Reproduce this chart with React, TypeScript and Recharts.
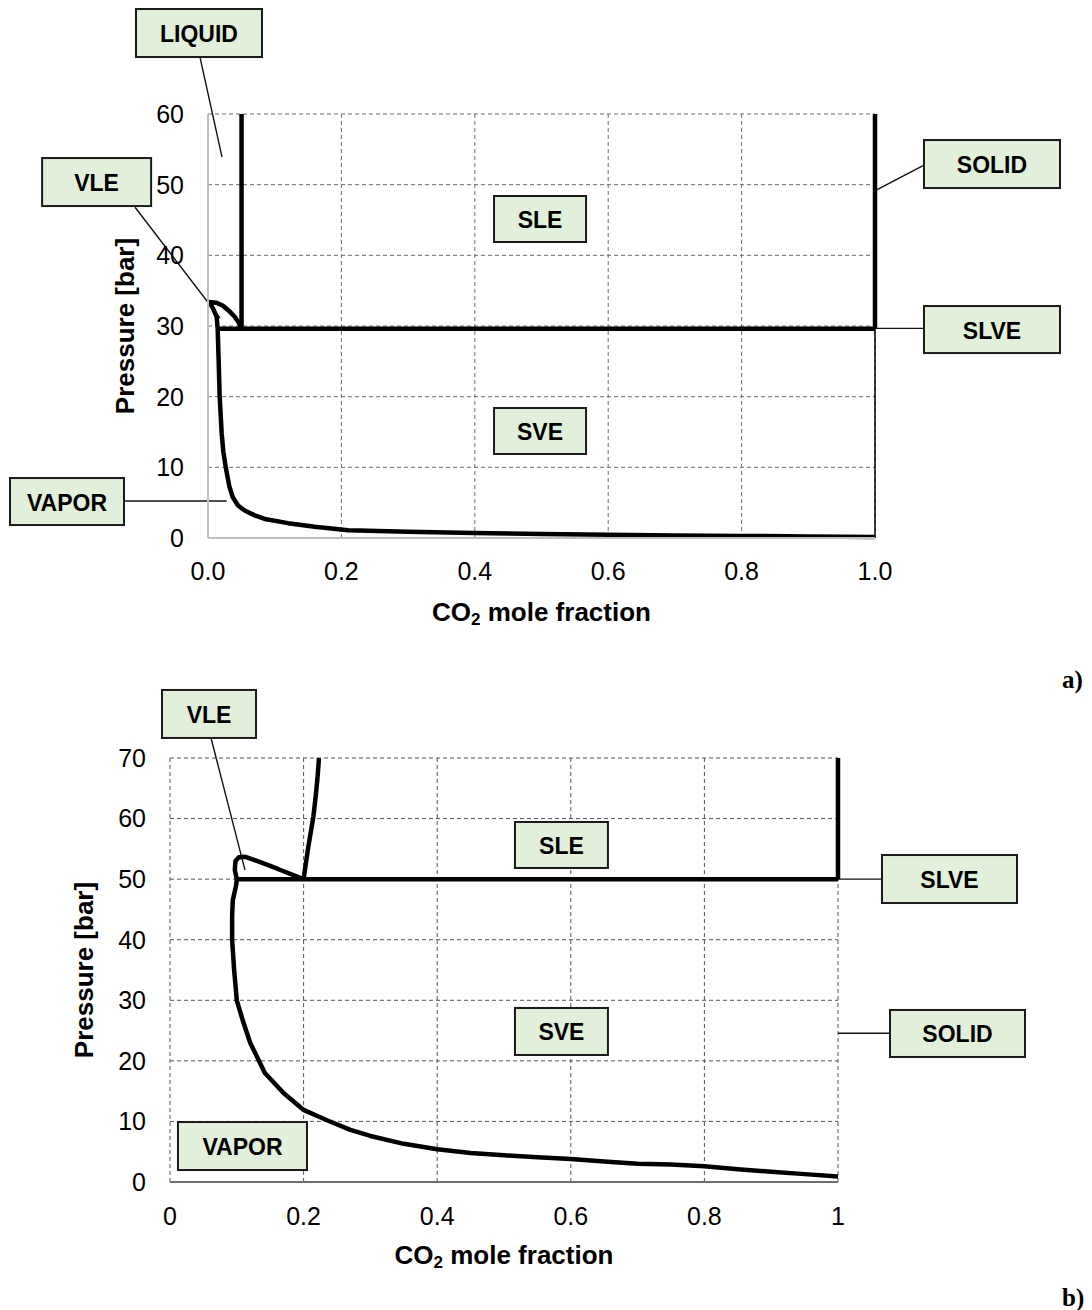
import React from "react";
import {
  LineChart,
  Line,
  XAxis,
  YAxis,
  CartesianGrid,
  ReferenceDot,
  ReferenceLine,
  Label,
} from "recharts";

type Pt = { x: number; p: number };

const FONT = '"Liberation Sans", Arial, sans-serif';

// ---------- a) phase envelope, P up to 60 bar ----------
// vapour branch from pure CO2 back to the VLE loop, then the bubble side
const aVaporVle: Pt[] = [
  { x: 1.0, p: 0.15 }, { x: 0.9, p: 0.22 }, { x: 0.8, p: 0.3 }, { x: 0.7, p: 0.37 },
  { x: 0.6, p: 0.45 }, { x: 0.5, p: 0.56 }, { x: 0.4, p: 0.7 }, { x: 0.3, p: 0.88 },
  { x: 0.21, p: 1.1 }, { x: 0.16, p: 1.6 }, { x: 0.12, p: 2.1 }, { x: 0.085, p: 2.7 },
  { x: 0.07, p: 3.2 }, { x: 0.055, p: 3.9 }, { x: 0.045, p: 4.6 }, { x: 0.037, p: 5.8 },
  { x: 0.032, p: 7.3 }, { x: 0.027, p: 9.8 }, { x: 0.023, p: 12.2 }, { x: 0.0205, p: 14.8 },
  { x: 0.0175, p: 20 }, { x: 0.016, p: 25 }, { x: 0.0145, p: 29.6 }, { x: 0.013, p: 31.3 },
  { x: 0.008, p: 32.4 }, { x: 0.002, p: 33.4 }, { x: 0.012, p: 33.3 }, { x: 0.022, p: 32.9 },
  { x: 0.032, p: 32.1 }, { x: 0.04, p: 31.3 }, { x: 0.046, p: 30.5 }, { x: 0.0503, p: 29.6 },
];
const aLiquidus: Pt[] = [{ x: 0.0503, p: 29.6 }, { x: 0.0503, p: 60 }];
const aSlve: Pt[] = [{ x: 0.0145, p: 29.6 }, { x: 1, p: 29.6 }];
const aSolidLiquid: Pt[] = [{ x: 1, p: 29.6 }, { x: 1, p: 60 }];
const aSolidVapor: Pt[] = [{ x: 1, p: 0 }, { x: 1, p: 29.6 }];

const aXTicks = [0, 0.2, 0.4, 0.6, 0.8, 1.0];
const aYTicks = [0, 10, 20, 30, 40, 50, 60];

// ---------- b) phase envelope, P up to 70 bar ----------
const bVaporVle: Pt[] = [
  { x: 1.0, p: 0.9 }, { x: 0.95, p: 1.3 }, { x: 0.9, p: 1.7 }, { x: 0.85, p: 2.1 },
  { x: 0.8, p: 2.6 }, { x: 0.75, p: 2.9 }, { x: 0.7, p: 3.0 }, { x: 0.65, p: 3.4 },
  { x: 0.6, p: 3.8 }, { x: 0.55, p: 4.1 }, { x: 0.5, p: 4.4 }, { x: 0.45, p: 4.8 },
  { x: 0.4, p: 5.4 }, { x: 0.35, p: 6.3 }, { x: 0.3, p: 7.6 }, { x: 0.27, p: 8.6 },
  { x: 0.235, p: 10.2 }, { x: 0.2, p: 11.9 }, { x: 0.17, p: 14.7 }, { x: 0.142, p: 18 },
  { x: 0.12, p: 23 }, { x: 0.108, p: 27 }, { x: 0.1, p: 30 }, { x: 0.096, p: 35 },
  { x: 0.093, p: 40 }, { x: 0.093, p: 44 }, { x: 0.094, p: 46.5 }, { x: 0.099, p: 49 },
  { x: 0.1, p: 50 }, { x: 0.097, p: 51.5 }, { x: 0.098, p: 53 }, { x: 0.103, p: 53.6 },
  { x: 0.112, p: 53.7 }, { x: 0.13, p: 53.0 }, { x: 0.15, p: 52.2 }, { x: 0.17, p: 51.3 },
  { x: 0.2, p: 50 },
];
const bLiquidus: Pt[] = [
  { x: 0.2, p: 50 }, { x: 0.207, p: 55.3 }, { x: 0.2146, p: 60.3 },
  { x: 0.2186, p: 64.2 }, { x: 0.221, p: 67 }, { x: 0.223, p: 70 },
];
const bSlve: Pt[] = [{ x: 0.1, p: 50 }, { x: 1, p: 50 }];
const bSolidLiquid: Pt[] = [{ x: 1, p: 50 }, { x: 1, p: 70 }];

const bXTicks = [0, 0.2, 0.4, 0.6, 0.8, 1];
const bYTicks = [0, 10, 20, 30, 40, 50, 60, 70];

// region labels, placed in chart units (box size in px)
type Callout = { text: string; x: number; p: number; w: number; h: number };
type Leader = { from: Pt; to: Pt };

const aCallouts: Callout[] = [
  { text: "LIQUID", x: -0.0135, p: 71.46, w: 126, h: 48 },
  { text: "VLE", x: -0.167, p: 50.37, w: 109, h: 48 },
  { text: "SLE", x: 0.4978, p: 45.14, w: 92, h: 46 },
  { text: "SOLID", x: 1.1754, p: 52.92, w: 136, h: 48 },
  { text: "SLVE", x: 1.1754, p: 29.5, w: 136, h: 47 },
  { text: "SVE", x: 0.4978, p: 15.14, w: 92, h: 46 },
  { text: "VAPOR", x: -0.2114, p: 5.16, w: 114, h: 47 },
];
const aLeaders: Leader[] = [
  { from: { x: -0.012, p: 68.06 }, to: { x: 0.021, p: 53.9 } },
  { from: { x: -0.1094, p: 46.8 }, to: { x: 0.018, p: 31.13 } },
  { from: { x: 1.0735, p: 52.78 }, to: { x: 0.9975, p: 49.0 } },
  { from: { x: 1.0735, p: 29.67 }, to: { x: 0.9975, p: 29.67 } },
  { from: { x: -0.126, p: 5.24 }, to: { x: 0.028, p: 5.24 } },
];

const bCallouts: Callout[] = [
  { text: "VLE", x: 0.0584, p: 77.27, w: 94, h: 48 },
  { text: "SLE", x: 0.586, p: 55.64, w: 93, h: 46 },
  { text: "SLVE", x: 1.1669, p: 50.02, w: 135, h: 48 },
  { text: "SVE", x: 0.586, p: 24.85, w: 93, h: 47 },
  { text: "SOLID", x: 1.1789, p: 24.52, w: 135, h: 47 },
  { text: "VAPOR", x: 0.1085, p: 5.94, w: 129, h: 48 },
];
const bLeaders: Leader[] = [
  { from: { x: 0.0614, p: 73.3 }, to: { x: 0.1123, p: 51.5 } },
  { from: { x: 1.0659, p: 50 }, to: { x: 1.0, p: 50 } },
  { from: { x: 1.0778, p: 24.55 }, to: { x: 1.0, p: 24.55 } },
];

function calloutShape(c: Callout) {
  return (props: any) => {
    const { cx, cy } = props;
    return (
      <g>
        <rect
          x={cx - c.w / 2}
          y={cy - c.h / 2}
          width={c.w}
          height={c.h}
          fill="#e2efda"
          stroke="#1a1a1a"
          strokeWidth={2}
        />
        <text
          x={cx}
          y={cy + 1}
          textAnchor="middle"
          dominantBaseline="central"
          fontFamily={FONT}
          fontWeight="bold"
          fontSize={23}
          fill="#000"
        >
          {c.text}
        </text>
      </g>
    );
  };
}

type Curve = { data: Pt[]; width: number };

type PhaseProps = {
  width: number;
  height: number;
  margin: { top: number; right: number; bottom: number; left: number };
  yMax: number;
  xTicks: number[];
  yTicks: number[];
  xFormat: (v: number) => string;
  curves: Curve[];
  callouts: Callout[];
  leaders: Leader[];
  yAxisLine: boolean;
  xAxisColor: string;
  gridColor: string;
  yTitleGap: number;
  xTitleGap: number;
  tickGapX: number;
};

function PhaseChart(props: PhaseProps) {
  const tickStyle = { fill: "#000", fontSize: 25, fontFamily: FONT };
  return (
    <LineChart width={props.width} height={props.height} margin={props.margin}>
      <CartesianGrid stroke={props.gridColor} strokeDasharray="4 3" strokeWidth={1} />
      <XAxis
        type="number"
        dataKey="x"
        domain={[0, 1]}
        ticks={props.xTicks}
        interval={0}
        tickFormatter={props.xFormat}
        tick={tickStyle}
        tickLine={false}
        tickSize={0}
        tickMargin={props.tickGapX}
        height={100}
        axisLine={{ stroke: props.xAxisColor, strokeWidth: 2 }}
      >
        <Label
          content={({ viewBox }: any) => (
            <text
              x={viewBox.x + viewBox.width / 2}
              y={viewBox.y + props.xTitleGap}
              textAnchor="middle"
              dominantBaseline="central"
              fontFamily={FONT}
              fontWeight="bold"
              fontSize={26}
              fill="#000"
            >
              CO
              <tspan fontSize={17} dy={7}>2</tspan>
              <tspan dy={-7}> mole fraction</tspan>
            </text>
          )}
        />
      </XAxis>
      <YAxis
        type="number"
        domain={[0, props.yMax]}
        ticks={props.yTicks}
        interval={0}
        tick={tickStyle}
        tickLine={false}
        tickSize={0}
        tickMargin={24}
        width={100}
        axisLine={props.yAxisLine ? { stroke: "#bfbfbf", strokeWidth: 2 } : false}
      >
        <Label
          content={({ viewBox }: any) => {
            const cx = viewBox.x + viewBox.width - props.yTitleGap;
            const cy = viewBox.y + viewBox.height / 2;
            return (
              <text
                x={cx}
                y={cy}
                transform={`rotate(-90 ${cx} ${cy})`}
                textAnchor="middle"
                dominantBaseline="central"
                fontFamily={FONT}
                fontWeight="bold"
                fontSize={26}
                fill="#000"
              >
                Pressure [bar]
              </text>
            );
          }}
        />
      </YAxis>
      {props.curves.map((c, i) => (
        <Line
          key={`curve-${i}`}
          data={c.data}
          dataKey="p"
          type="linear"
          stroke="#000"
          strokeWidth={c.width}
          strokeLinejoin="round"
          dot={false}
          activeDot={false}
          isAnimationActive={false}
        />
      ))}
      {props.leaders.map((l, i) => (
        <ReferenceLine
          key={`leader-${i}`}
          segment={[
            { x: l.from.x, y: l.from.p },
            { x: l.to.x, y: l.to.p },
          ]}
          stroke="#111"
          strokeWidth={1.4}
          ifOverflow="visible"
        />
      ))}
      {props.callouts.map((c) => (
        <ReferenceDot
          key={c.text}
          x={c.x}
          y={c.p}
          r={1}
          ifOverflow="visible"
          shape={calloutShape(c)}
        />
      ))}
    </LineChart>
  );
}

export default function App() {
  return (
    <div
      style={{
        position: "absolute",
        left: 0,
        top: 0,
        width: 1092,
        height: 1310,
        background: "#fff",
      }}
    >
      <div style={{ position: "absolute", left: 0, top: 0 }}>
        <PhaseChart
          width={1092}
          height={640}
          margin={{ top: 114, right: 217, bottom: 2, left: 108 }}
          yMax={60}
          xTicks={aXTicks}
          yTicks={aYTicks}
          xFormat={(v) => v.toFixed(1)}
          curves={[
            { data: aSolidVapor, width: 1.5 },
            { data: aVaporVle, width: 4.5 },
            { data: aLiquidus, width: 4.5 },
            { data: aSlve, width: 4.5 },
            { data: aSolidLiquid, width: 4.5 },
          ]}
          callouts={aCallouts}
          leaders={aLeaders}
          yAxisLine={true}
          xAxisColor="#bfbfbf"
          gridColor="#6e6e6e"
          yTitleGap={83}
          xTitleGap={74}
          tickGapX={24}
        />
      </div>
      <div style={{ position: "absolute", left: 0, top: 640 }}>
        <PhaseChart
          width={1092}
          height={670}
          margin={{ top: 118, right: 254, bottom: 28, left: 70 }}
          yMax={70}
          xTicks={bXTicks}
          yTicks={bYTicks}
          xFormat={(v) => String(v)}
          curves={[
            { data: bVaporVle, width: 4.5 },
            { data: bLiquidus, width: 4.5 },
            { data: bSlve, width: 4.5 },
            { data: bSolidLiquid, width: 4.5 },
          ]}
          callouts={bCallouts}
          leaders={bLeaders}
          yAxisLine={false}
          xAxisColor="#6e6e6e"
          gridColor="#555555"
          yTitleGap={86}
          xTitleGap={73}
          tickGapX={25}
        />
      </div>
      <div
        style={{
          position: "absolute",
          left: 1062,
          top: 666,
          fontFamily: '"Liberation Serif", "Times New Roman", serif',
          fontWeight: "bold",
          fontSize: 25,
        }}
      >
        a)
      </div>
      <div
        style={{
          position: "absolute",
          left: 1062,
          top: 1284,
          fontFamily: '"Liberation Serif", "Times New Roman", serif',
          fontWeight: "bold",
          fontSize: 25,
        }}
      >
        b)
      </div>
    </div>
  );
}
